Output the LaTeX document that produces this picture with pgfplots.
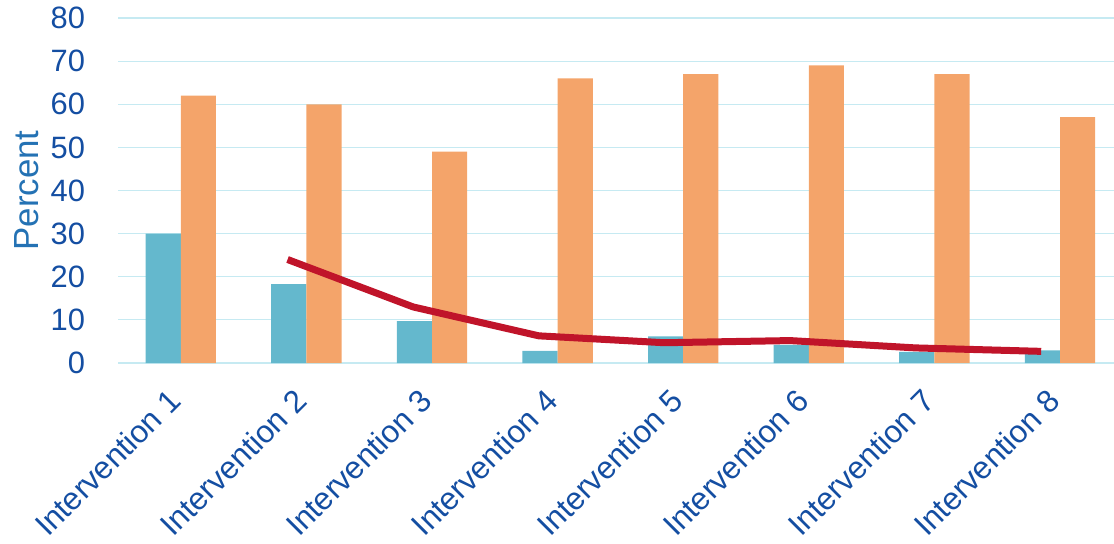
\documentclass[border=0pt]{standalone}
\usepackage{pgfplots}
\pgfplotsset{compat=1.18}
\usepackage{pgfplotstable}
\usepackage{fontspec}
\setmainfont{Liberation Sans}
\definecolor{barblue}{RGB}{100,184,205}
\definecolor{barorange}{RGB}{244,164,106}
\definecolor{linered}{RGB}{192,20,42}
\definecolor{gridc}{RGB}{198,234,242}
\definecolor{tickblue}{RGB}{20,78,162}
\definecolor{labblue}{RGB}{36,114,180}
\pgfplotstableread{
cat blue orange
1 30 62
2 18.3 60
3 9.7 49
4 2.8 66
5 6.2 67
6 4.2 69
7 2.6 67
8 2.9 57
}\bars
\begin{document}
\begin{tikzpicture}
\begin{axis}[
  scale only axis,
  width=498bp, height=172.5bp,
  xmin=-0.5, xmax=7.43,
  ymin=0, ymax=80,
  ytick={0,10,...,80},
  xtick={0,...,7},
  xticklabels={Intervention 1,Intervention 2,Intervention 3,Intervention 4,Intervention 5,Intervention 6,Intervention 7,Intervention 8},
  axis line style={draw=none},
  major tick length=0pt,
  ymajorgrids,
  grid style={gridc, line width=0.6bp},
  /pgf/number format/assume math mode=true,
  yticklabel style={font=\fontsize{15.5}{17}\selectfont, color=tickblue, xshift=-13bp},
  xticklabel style={font=\fontsize{15.8}{17}\selectfont, color=tickblue, xshift=-7bp, yshift=-7bp, rotate=45, anchor=north east},
  ylabel={Percent},
  ylabel style={font=\fontsize{17.5}{19}\selectfont, color=labblue, at={(rel axis cs:0,0.5)}, anchor=north, yshift=55.5bp},
  clip=false,
]
\addplot[ybar, bar width=0.28, bar shift=0pt, fill=barblue, draw=none] table[x expr=\coordindex-0.14, y=blue] {\bars};
\addplot[ybar, bar width=0.28, bar shift=0pt, fill=barorange, draw=none] table[x expr=\coordindex+0.14, y=orange] {\bars};
\addplot[linered, line width=3.5bp, line join=round, mark=none] coordinates {
(0.85,24) (1.85,13) (2.85,6.3) (3.85,4.7) (4.85,5.2) (5.85,3.5) (6.85,2.7)
};
\end{axis}
\pgfresetboundingbox
\path[use as bounding box] ([xshift=-59bp,yshift=-90.5bp]current axis.south west) rectangle ([yshift=9bp]current axis.north east);
\end{tikzpicture}
\end{document}
